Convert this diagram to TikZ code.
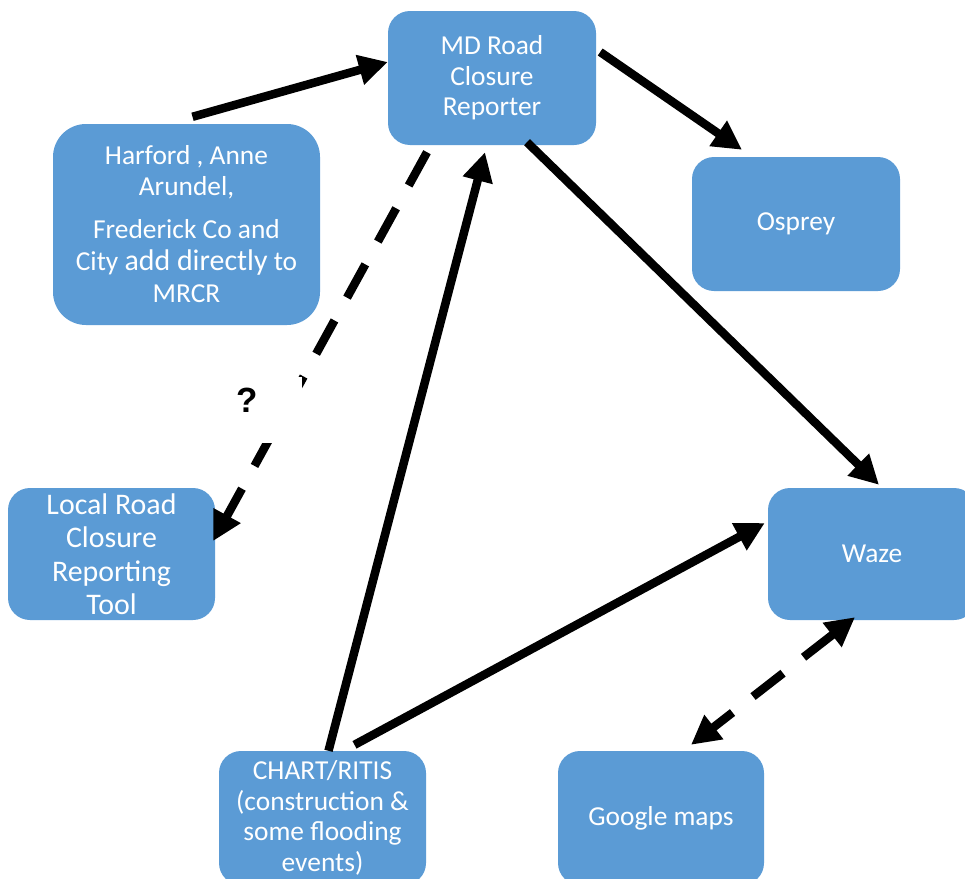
\documentclass[tikz,border=0pt]{standalone}
\usepackage{fontspec}
\setmainfont{Carlito}
\newfontfamily\qfont{Liberation Sans}
\usetikzlibrary{arrows.meta}
\definecolor{boxblue}{RGB}{91,155,213}
\begin{document}
\begin{tikzpicture}[
  x=1pt, y=-1pt,
  box/.style={fill=boxblue, text=white, rounded corners=22pt, align=center,
    inner sep=0pt, minimum width=208pt, minimum height=134pt,
    font=\fontsize{27.4}{30.5}\selectfont},
  flow/.style={line width=8.5pt, -{Triangle[length=29pt,width=29pt]}},
  dashflow/.style={flow, dash pattern=on 38pt off 26pt},
  qmark/.style={fill=white, minimum height=66pt, inner xsep=14pt, text depth=20pt,
    font=\qfont\bfseries\fontsize{35}{40}\selectfont}
]
\useasboundingbox (0,0) rectangle (965,878);
\clip (0,0) rectangle (965,878);

\node [box] (mrcr) at (492,78) {MD Road\\Closure\\Reporter};
\node [box, rounded corners=33pt, minimum width=267pt, minimum height=201pt] (har) at (186.5,224.5)
  {Harford , Anne\\Arundel,\\[13pt]Frederick Co and\\[1.5pt]City {\fontsize{29.9}{32}\selectfont add directly} to\\[1.5pt]MRCR};
\node [box] (osp) at (796,224) {Osprey};
\node [box, minimum width=207pt, minimum height=132pt, font=\fontsize{29.9}{33.5}\selectfont] (local) at (111.5,554)
  {Local Road\\Closure\\Reporting\\Tool};
\node [box, minimum width=207pt] (chart) at (322.5,818)
  {CHART/RITIS\\(construction \&\\some flooding\\events)};
\node [box, minimum height=132pt] (waze) at (872,554) {Waze};
\node [box, minimum width=206pt] (goo) at (661,818) {Google maps};

\draw [flow] ([xshift=6pt,yshift=7pt]har.north) -- ([yshift=16pt]mrcr.west);
\draw [flow] ([xshift=4pt,yshift=26pt]mrcr.east) -- ([xshift=-54pt,yshift=7pt]osp.north);
\draw [flow] ([xshift=35pt,yshift=3pt]mrcr.south) -- ([xshift=7pt,yshift=3pt]waze.north);
\draw [dashflow] ([xshift=-65pt,yshift=-7pt]mrcr.south) -- ([xshift=-2pt,yshift=13pt]local.east);
\draw [flow] ([xshift=6pt]chart.north) -- ([xshift=-7pt,yshift=-7pt]mrcr.south);
\draw [flow] ([xshift=32pt,yshift=6pt]chart.north) -- ([xshift=-3pt,yshift=31pt]waze.west);
\draw [dashflow, {Triangle[length=29pt,width=29pt]}-{Triangle[length=29pt,width=29pt]}]
  ([xshift=-17pt,yshift=3pt]waze.south) -- ([xshift=30pt,yshift=6pt]goo.north);

\node [qmark] (q) at (262,410) {?\hspace*{30.6pt}};
\end{tikzpicture}
\end{document}
